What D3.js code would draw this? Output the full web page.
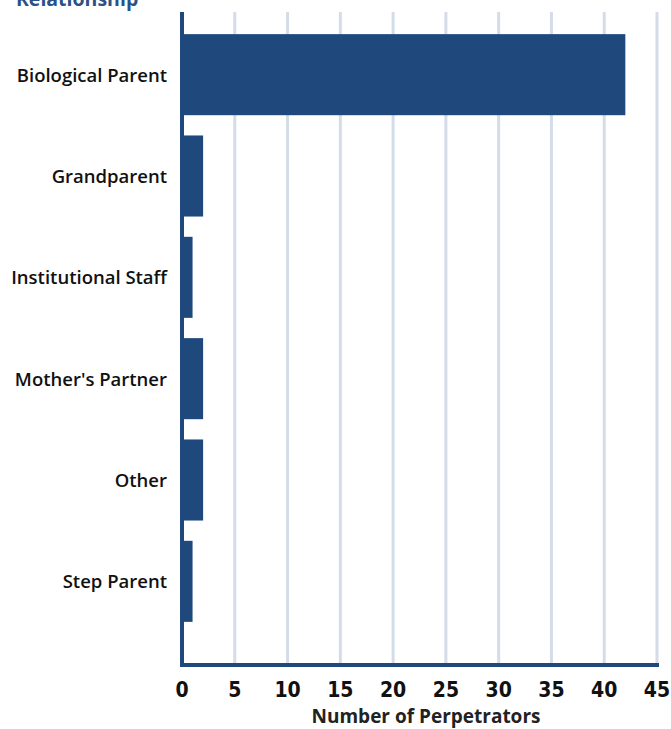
<!DOCTYPE html>
<html>
<head>
<meta charset="utf-8">
<script src="https://cdn.jsdelivr.net/npm/d3@7"></script>
<style>
  body { margin: 0; background: #fff; }
  svg { display: block; }
</style>
</head>
<body>
<svg width="671" height="729"></svg>
<script>
// data
var categories = ["Biological Parent", "Grandparent", "Institutional Staff", "Mother's Partner", "Other", "Step Parent"];
var counts = [42, 2, 1, 2, 2, 1];
var xTicks = [0, 5, 10, 15, 20, 25, 30, 35, 40, 45];

var svg = d3.select("svg");
var barColor = "#1f497d",
    gridColor = "#d3dce8";

var x = d3.scaleLinear().domain([0, 45]).range([182, 657]);
var y = d3.scaleBand().domain(categories).range([24, 632]).paddingInner(0.2).paddingOuter(0.1);

// vertical gridlines
svg.append("g").selectAll("line")
  .data(xTicks.slice(1))
  .enter().append("line")
    .attr("x1", function(d) { return x(d); })
    .attr("x2", function(d) { return x(d); })
    .attr("y1", 12)
    .attr("y2", 665)
    .attr("stroke", gridColor)
    .attr("stroke-width", 3);

// bars
svg.append("g").selectAll("rect")
  .data(counts)
  .enter().append("rect")
    .attr("x", x(0))
    .attr("y", function(d, i) { return y(categories[i]); })
    .attr("width", function(d) { return x(d) - x(0); })
    .attr("height", y.bandwidth())
    .attr("fill", barColor);

// axes lines
svg.append("line")
  .attr("x1", x(0)).attr("x2", x(0))
  .attr("y1", 12).attr("y2", 667)
  .attr("stroke", barColor).attr("stroke-width", 4);
svg.append("line")
  .attr("x1", x(0) - 2).attr("x2", x(45) + 2)
  .attr("y1", 665).attr("y2", 665)
  .attr("stroke", barColor).attr("stroke-width", 4);

// x tick labels
svg.append("g").selectAll("text")
  .data(xTicks)
  .enter().append("text")
    .attr("x", function(d) { return x(d); })
    .attr("y", 697)
    .attr("text-anchor", "middle")
    .attr("font-family", "'Liberation Sans Narrow', 'DejaVu Sans Condensed', sans-serif")
    .attr("font-weight", "bold")
    .attr("font-size", "21px")
    .attr("fill", "#111")
    .text(function(d) { return d; });

// category labels
svg.append("g").selectAll("text")
  .data(categories)
  .enter().append("text")
    .attr("x", 167)
    .attr("y", function(d) { return y(d) + y.bandwidth() / 2; })
    .attr("dy", "0.38em")
    .attr("text-anchor", "end")
    .attr("font-family", "'Open Sans', sans-serif")
    .attr("font-weight", 600)
    .attr("font-size", "18.5px")
    .attr("fill", "#111")
    .text(function(d) { return d; });

// axis title
svg.append("text")
  .attr("x", 426)
  .attr("y", 723)
  .attr("text-anchor", "middle")
  .attr("font-family", "'Open Sans', sans-serif")
  .attr("font-weight", "bold")
  .attr("font-size", "19px")
  .attr("fill", "#222")
  .text("Number of Perpetrators");

// y title, cut off at the top
svg.append("text")
  .attr("x", 16)
  .attr("y", 6)
  .attr("font-family", "'Open Sans', sans-serif")
  .attr("font-weight", "bold")
  .attr("font-size", "19.5px")
  .attr("fill", "#2a5188")
  .text("Relationship");
</script>
</body>
</html>
